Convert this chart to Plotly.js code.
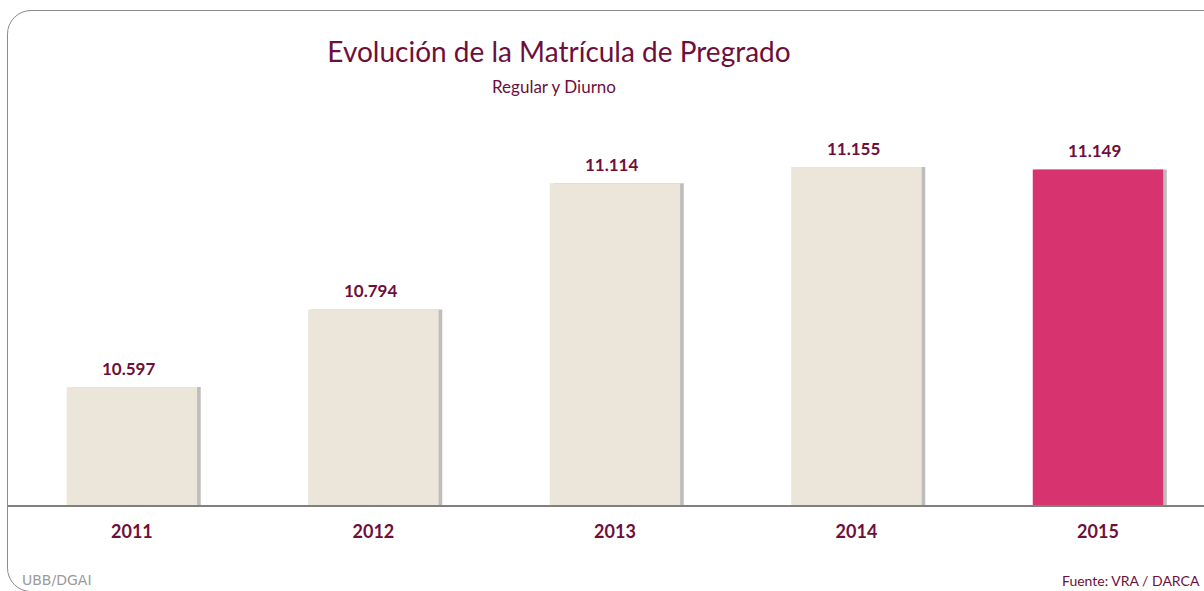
<!DOCTYPE html>
<html>
<head>
<meta charset="utf-8">
<script src="https://cdn.plot.ly/plotly-3.0.1.min.js"></script>
<style>
  html, body { margin: 0; padding: 0; width: 1204px; height: 591px; overflow: hidden; background: #ffffff; }
  #frame { position: absolute; left: 7px; top: 10px; width: 1240px; height: 582px; border: 1.5px solid #8c8c8c; border-radius: 24px; box-sizing: border-box; pointer-events: none; z-index: 2; }
  #chart { position: absolute; left: 0; top: 0; width: 1204px; height: 591px; z-index: 1; }
</style>
</head>
<body>
<div id="chart"></div>
<div id="frame"></div>
<script>
// Data
const years = ['2011', '2012', '2013', '2014', '2015'];
const enrolment = [10597, 10794, 11114, 11155, 11149];
const barColors = ['#ebe5da', '#ebe5da', '#ebe5da', '#ebe5da', '#d6336f'];
const titleText = 'Evolución de la Matrícula de Pregrado';
const subtitleText = 'Regular y Diurno';
const sourceText = 'Fuente: VRA / DARCA';
const logoText = 'UBB/DGAI';

const maroon = '#6e0f3b';
const font = 'Lato, Carlito, Calibri, sans-serif';

function fmt(v) {
  return String(v).replace(/\B(?=(\d{3})+(?!\d))/g, '.');
}

const shadow = {
  type: 'bar',
  x: years,
  y: enrolment,
  width: 0.54,
  offset: -0.255,
  marker: { color: 'rgba(95,90,85,0.4)', line: { width: 0 } },
  hoverinfo: 'skip'
};

const trace = {
  type: 'bar',
  x: years,
  y: enrolment,
  width: 0.54,
  offset: -0.27,
  marker: { color: barColors, line: { width: 0 } },
  hoverinfo: 'skip'
};

const annotations = years.map((yr, i) => ({
  x: i, y: enrolment[i], xref: 'x', yref: 'y',
  text: '<b>' + fmt(enrolment[i]) + '</b>',
  showarrow: false, xanchor: 'center', yanchor: 'middle', yshift: 19, xshift: -3,
  font: { family: font, size: 17, color: maroon }
}));

annotations.push({
  xref: 'paper', yref: 'paper', x: (554 - 8) / 1196, y: (505 - 86) / 405,
  text: subtitleText, showarrow: false, xanchor: 'center', yanchor: 'middle',
  font: { family: font, size: 17, color: maroon }
});
annotations.push({
  xref: 'paper', yref: 'paper', x: (1202 - 8) / 1196, y: (505 - 580) / 405,
  text: sourceText, showarrow: false, xanchor: 'right', yanchor: 'middle',
  font: { family: font, size: 14, color: maroon }
});
annotations.push({
  xref: 'paper', yref: 'paper', x: (20 - 8) / 1196, y: (505 - 590) / 405,
  text: logoText, showarrow: false, xanchor: 'left', yanchor: 'bottom',
  font: { family: 'DejaVu Sans, sans-serif', size: 14, color: '#9a9a9a' }
});

const layout = {
  width: 1204, height: 591,
  margin: { l: 8, r: 0, t: 100, b: 86, pad: 0 },
  paper_bgcolor: 'rgba(0,0,0,0)',
  plot_bgcolor: 'rgba(0,0,0,0)',
  showlegend: false,
  barmode: 'overlay',
  title: {
    text: titleText,
    x: 559 / 1204, xanchor: 'center', xref: 'container',
    y: 1 - 52 / 591, yanchor: 'middle', yref: 'container',
    font: { family: font, size: 28, color: maroon }
  },
  xaxis: {
    type: 'category',
    range: [-0.513, 4.439],
    showgrid: false, zeroline: false,
    showline: true, linecolor: '#808080', linewidth: 2,
    ticks: '', ticklabelstandoff: 9,
    tickfont: { family: font, size: 18, color: maroon, weight: 'bold' },
    fixedrange: true
  },
  yaxis: {
    range: [10298, 11325],
    visible: false, showgrid: false, zeroline: false,
    fixedrange: true
  },
  annotations: annotations
};

Plotly.newPlot('chart', [shadow, trace], layout, { displayModeBar: false, staticPlot: true });
</script>
</body>
</html>
